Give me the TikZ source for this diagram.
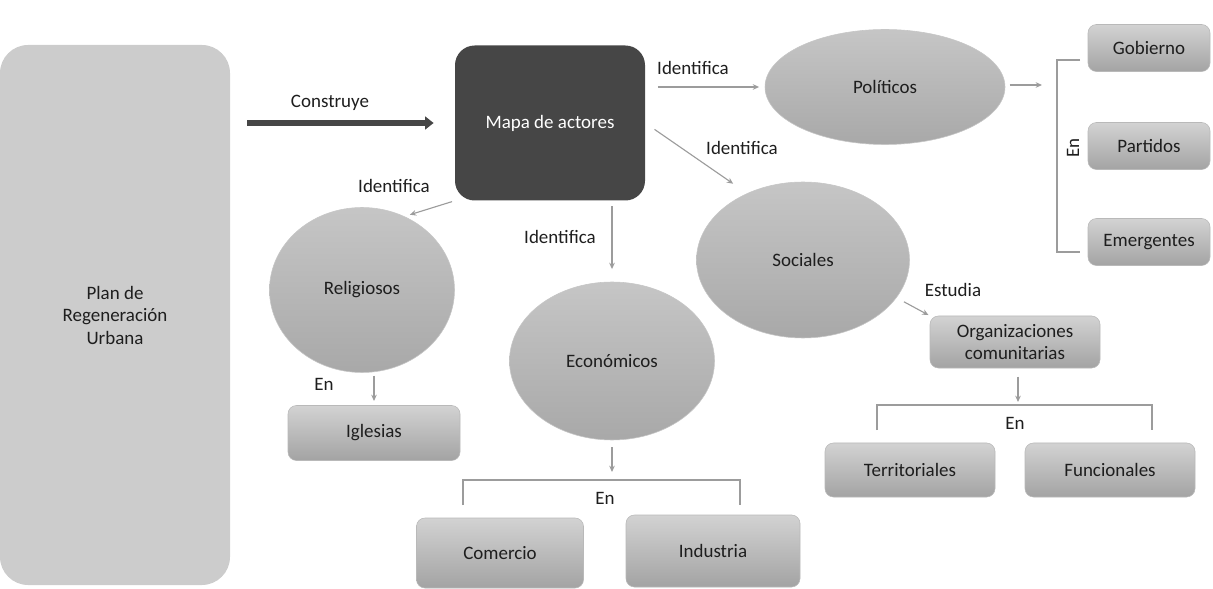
\documentclass[tikz,border=0pt]{standalone}
\usepackage{fontspec}
\setmainfont{Carlito}
\usetikzlibrary{arrows.meta,shapes.geometric}

\definecolor{ink}{HTML}{1E1E1E}
\definecolor{mapgray}{HTML}{464646}
\definecolor{linegray}{HTML}{9C9C9C}

\tikzset{
  actorbox/.style={rectangle, rounded corners=6pt, draw=gray!55, line width=0.4pt,
    top color=gray!35, bottom color=gray!72, text=ink, align=center},
  actor/.style={ellipse, draw=gray!45, line width=0.4pt,
    top color=gray!45, bottom color=gray!68, text=ink, align=center},
  link/.style={draw=linegray, line width=0.8pt, -{Stealth[length=4.5pt,width=4pt]}},
  bracket/.style={draw=linegray, line width=0.9pt},
  lbl/.style={text=ink, inner sep=1pt}
}

\begin{document}
\begin{tikzpicture}[x=0.25mm, y=-0.25mm, font=\fontsize{13.5}{16}\selectfont]
  \useasboundingbox (0,0) rectangle (1213,589);

  % main blocks
  \node[rectangle, rounded corners=20pt, fill=gray!40, text=ink, align=center,
    minimum width=57.5mm, minimum height=135mm] (plan) at (115,315) {Plan de\\Regeneración\\Urbana};
  \node[rectangle, rounded corners=14pt, fill=mapgray, text=white,
    minimum width=47.5mm, minimum height=38.75mm] (mapa) at (550,123) {Mapa de actores};

  % actors
  \node[actor, minimum width=60mm, minimum height=28.75mm] (pol) at (885,87) {Políticos};
  \node[actor, minimum width=53.25mm, minimum height=39mm] (soc) at (803,260) {Sociales};
  \node[actor, minimum width=46.25mm, minimum height=41.25mm] (rel) at (362,290) {Religiosos};
  \node[actor, minimum width=51.25mm, minimum height=39.5mm] (eco) at (612,361) {Económicos};

  % boxes
  \node[actorbox, minimum width=30.5mm, minimum height=11.75mm] (gob) at (1149,48) {Gobierno};
  \node[actorbox, minimum width=30.5mm, minimum height=11.75mm] (par) at (1149,146) {Partidos};
  \node[actorbox, minimum width=30.5mm, minimum height=11.75mm] (emer) at (1149,242) {Emergentes};
  \node[actorbox, minimum width=43mm, minimum height=13.75mm] (igl) at (374,433) {Iglesias};
  \node[actorbox, minimum width=41.75mm, minimum height=17.5mm] (com) at (500,553) {Comercio};
  \node[actorbox, minimum width=43.5mm, minimum height=18mm] (ind) at (713,551) {Industria};
  \node[actorbox, minimum width=42.5mm, minimum height=13mm] (org) at (1015,342) {Organizaciones\\comunitarias};
  \node[actorbox, minimum width=42.5mm, minimum height=13.5mm] (terr) at (910,470) {Territoriales};
  \node[actorbox, minimum width=42.5mm, minimum height=13.5mm] (fun) at (1110,470) {Funcionales};

  % bracket ends
  \coordinate (polin) at (1042,85);
  \coordinate (ecoin) at (612,472);
  \coordinate (orgin) at (1018,402);

  % connectors
  \draw[mapgray, line width=4.2pt, -{Triangle[length=6pt,width=9pt]},
    shorten <=12pt, shorten >=15pt] (plan.east |- mapa) -- (mapa.west);
  \draw[link, shorten <=9pt, shorten >=4pt] (mapa.east |- pol) -- (pol.west);
  \draw[link, shorten <=8pt, shorten >=12pt] (mapa.east) -- (soc.130);
  \draw[link, shorten <=2pt, shorten >=4pt] (mapa.south west) -- (rel.60);
  \draw[link, shorten <=4pt, shorten >=9pt] (mapa.south -| eco) -- (eco.north);
  \draw[link, shorten <=3pt] (pol.east |- polin) -- (polin);
  \draw[link, shorten <=2pt, shorten >=3pt] (igl.north |- rel.south) -- (igl.north);
  \draw[link, shorten <=5pt] (eco.south) -- (ecoin);
  \draw[link, shorten <=6pt, shorten >=1pt] (soc.-22) -- (org.north west);
  \draw[link, shorten <=6pt] (org.south -| orgin) -- (orgin);

  % brackets
  \draw[bracket] (1080,60) -| (1057,252) -- (1080,252);
  \draw[bracket] (463,505) |- (740,480) -- (740,505);
  \draw[bracket] (877,430) |- (1152,405) -- (1152,430);

  % labels
  \node[lbl] (lcons) at (330,103) {Construye};
  \node[lbl] (lpol) at (693,68) {Identifica};
  \node[lbl] (lsoc) at (742,148) {Identifica};
  \node[lbl] (lrel) at (394,186) {Identifica};
  \node[lbl] (leco) at (560,237) {Identifica};
  \node[lbl] (lest) at (953,290) {Estudia};
  \node[lbl, rotate=90] (lenpol) at (1073,148) {En};
  \node[lbl] (lenrel) at (324,384) {En};
  \node[lbl] (leneco) at (605,498) {En};
  \node[lbl] (lenorg) at (1015,423) {En};
\end{tikzpicture}
\end{document}
